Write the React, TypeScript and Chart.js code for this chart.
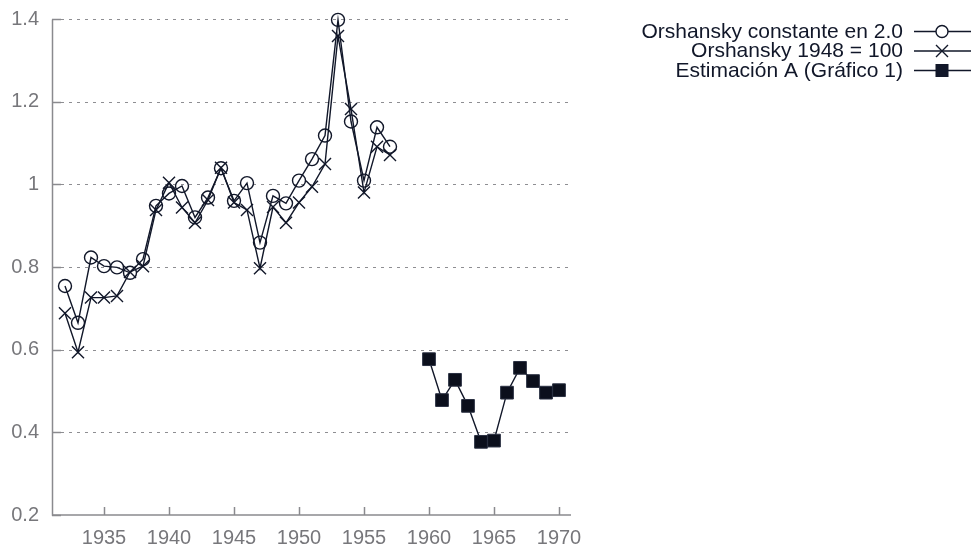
import React, { useEffect, useRef } from 'react';
import { Chart, registerables } from 'chart.js';

Chart.register(...registerables);

// ---- Data ----
const yearsA = [1932, 1933, 1934, 1935, 1936, 1937, 1938, 1939, 1940, 1941, 1942, 1943, 1944, 1945, 1946, 1947, 1948, 1949, 1950, 1951, 1952, 1953, 1954, 1955, 1956, 1957];
const orshanskyConstante = [0.754, 0.665, 0.823, 0.802, 0.799, 0.786, 0.819, 0.948, 0.978, 0.996, 0.920, 0.968, 1.039, 0.960, 1.003, 0.859, 0.972, 0.954, 1.009, 1.061, 1.118, 1.398, 1.152, 1.009, 1.138, 1.091];
const orshansky1948 = [0.688, 0.594, 0.726, 0.726, 0.730, 0.788, 0.802, 0.938, 1.004, 0.944, 0.907, 0.962, 1.040, 0.956, 0.938, 0.797, 0.945, 0.907, 0.956, 0.994, 1.049, 1.359, 1.182, 0.980, 1.091, 1.071];
const yearsB = [1960, 1961, 1962, 1963, 1964, 1965, 1966, 1967, 1968, 1969, 1970];
const estimacionA = [0.577, 0.478, 0.527, 0.464, 0.377, 0.380, 0.496, 0.556, 0.524, 0.496, 0.502];

const seriesLabels = ['Orshansky constante en 2.0', 'Orshansky 1948 = 100', 'Estimación A (Gráfico 1)'];
const xTickValues = [1935, 1940, 1945, 1950, 1955, 1960, 1965, 1970];
const yTickValues = [0.2, 0.4, 0.6, 0.8, 1.0, 1.2, 1.4];

const INK = '#111729';
const AXIS = '#8a8a8e';
const TICKTEXT = '#77777b';
const FONT = '"Liberation Sans", Arial, Helvetica, sans-serif';

function drawMarker(ctx: CanvasRenderingContext2D, style: string, x: number, y: number) {
  ctx.save();
  ctx.strokeStyle = INK;
  ctx.fillStyle = INK;
  ctx.lineWidth = 1.4;
  if (style === 'circle') {
    ctx.beginPath();
    ctx.arc(x, y, 6, 0, Math.PI * 2);
    ctx.fillStyle = '#ffffff';
    ctx.fill();
    ctx.stroke();
  } else if (style === 'crossRot') {
    const o = 6;
    ctx.beginPath();
    ctx.moveTo(x - o, y - o);
    ctx.lineTo(x + o, y + o);
    ctx.moveTo(x - o, y + o);
    ctx.lineTo(x + o, y - o);
    ctx.stroke();
  } else {
    ctx.fillRect(x - 6.5, y - 6.5, 13, 13);
  }
  ctx.restore();
}

const axesPlugin = {
  id: 'customAxes',
  beforeDatasetsDraw(chart: any) {
    const { ctx, chartArea, scales } = chart;
    const xs = scales.x;
    const ys = scales.y;
    ctx.save();
    // dotted grid lines
    ctx.strokeStyle = '#8e8e92';
    ctx.lineWidth = 1.2;
    ctx.setLineDash([3, 5]);
    yTickValues.forEach((v) => {
      if (v === yTickValues[0]) return;
      const py = Math.round(ys.getPixelForValue(v)) + 0.5;
      ctx.beginPath();
      ctx.moveTo(chartArea.left + 9, py);
      ctx.lineTo(chartArea.right - 2, py);
      ctx.stroke();
    });
    ctx.setLineDash([]);
    ctx.strokeStyle = AXIS;
    ctx.lineWidth = 1.5;
    // y-axis ticks (inward)
    yTickValues.forEach((v) => {
      const py = Math.round(ys.getPixelForValue(v)) + 0.5;
      ctx.beginPath();
      ctx.moveTo(chartArea.left, py);
      ctx.lineTo(chartArea.left + 9, py);
      ctx.stroke();
    });
    // x-axis ticks (inward)
    xTickValues.forEach((v) => {
      const px = Math.round(xs.getPixelForValue(v)) + 0.5;
      ctx.beginPath();
      ctx.moveTo(px, chartArea.bottom);
      ctx.lineTo(px, chartArea.bottom - 8);
      ctx.stroke();
    });
    // axis lines
    const top = Math.round(ys.getPixelForValue(yTickValues[yTickValues.length - 1])) + 0.5;
    ctx.beginPath();
    ctx.moveTo(chartArea.left + 0.5, top);
    ctx.lineTo(chartArea.left + 0.5, chartArea.bottom);
    ctx.lineTo(chartArea.right - 1, chartArea.bottom);
    ctx.stroke();
    ctx.restore();
  },
  afterDraw(chart: any) {
    const { ctx } = chart;
    ctx.save();
    ctx.font = `21px ${FONT}`;
    ctx.fillStyle = INK;
    ctx.textAlign = 'right';
    ctx.textBaseline = 'middle';
    chart.data.datasets.forEach((ds: any, i: number) => {
      const rowY = 31 + i * 19.5;
      ctx.fillText(ds.label, 903, rowY + 1);
      ctx.strokeStyle = INK;
      ctx.lineWidth = 1.4;
      ctx.beginPath();
      ctx.moveTo(914, rowY + 0.5);
      ctx.lineTo(971, rowY + 0.5);
      ctx.stroke();
      drawMarker(ctx, ds.pointStyle, 942, rowY + 0.5);
    });
    ctx.restore();
  },
};

export default function App() {
  const ref = useRef<HTMLCanvasElement | null>(null);

  useEffect(() => {
    document.body.style.margin = '0';
    const canvas = ref.current;
    if (!canvas) return;
    const chart = new Chart(canvas, {
      type: 'line',
      data: {
        datasets: [
          {
            label: seriesLabels[0],
            data: yearsA.map((x, i) => ({ x, y: orshanskyConstante[i] })),
            borderColor: INK,
            borderWidth: 1.4,
            pointStyle: 'circle',
            pointRadius: 6.5,
            pointBorderWidth: 1.4,
            pointBorderColor: INK,
            pointBackgroundColor: 'rgba(0,0,0,0)',
            tension: 0,
          },
          {
            label: seriesLabels[1],
            data: yearsA.map((x, i) => ({ x, y: orshansky1948[i] })),
            borderColor: INK,
            borderWidth: 1.4,
            pointStyle: 'crossRot',
            pointRadius: 8.5,
            pointBorderWidth: 1.4,
            pointBorderColor: INK,
            pointBackgroundColor: INK,
            tension: 0,
          },
          {
            label: seriesLabels[2],
            data: yearsB.map((x, i) => ({ x, y: estimacionA[i] })),
            borderColor: INK,
            borderWidth: 1.4,
            pointStyle: 'rect',
            pointRadius: 9,
            pointBorderWidth: 1,
            pointBorderColor: '#2a3042',
            pointBackgroundColor: '#0b0f1c',
            tension: 0,
          },
        ],
      },
      options: {
        animation: false,
        responsive: false,
        devicePixelRatio: 1,
        clip: false,
        layout: { autoPadding: false, padding: { left: 0, top: 19, right: 400, bottom: 0 } },
        plugins: {
          legend: { display: false },
          tooltip: { enabled: false },
        },
        scales: {
          x: {
            type: 'linear',
            min: 1931,
            max: 1971,
            grid: { display: false, drawTicks: false },
            border: { display: false },
            afterFit: (scale: any) => { scale.height = 31; scale.paddingLeft = 0; scale.paddingRight = 0; },
            afterBuildTicks: (scale: any) => { scale.ticks = xTickValues.map((v) => ({ value: v })); },
            ticks: {
              color: TICKTEXT,
              font: { size: 20, family: FONT },
              padding: 11,
              maxRotation: 0,
              autoSkip: false,
              callback: (v: any) => String(v),
            },
          },
          y: {
            type: 'linear',
            min: 0.2,
            max: 1.4,
            grid: { display: false, drawTicks: false },
            border: { display: false },
            afterFit: (scale: any) => { scale.width = 52; scale.paddingTop = 0; scale.paddingBottom = 0; },
            afterBuildTicks: (scale: any) => { scale.ticks = yTickValues.map((v) => ({ value: v })); },
            ticks: {
              color: TICKTEXT,
              font: { size: 20, family: FONT },
              padding: 13,
              autoSkip: false,
              callback: (v: any) => String(Math.round(Number(v) * 10) / 10),
            },
          },
        },
      },
      plugins: [axesPlugin],
    } as any);
    return () => chart.destroy();
  }, []);

  return (
    <div style={{ width: 972, height: 546, background: '#ffffff' }}>
      <canvas ref={ref} width={972} height={546} style={{ display: 'block', width: 972, height: 546 }} />
    </div>
  );
}
